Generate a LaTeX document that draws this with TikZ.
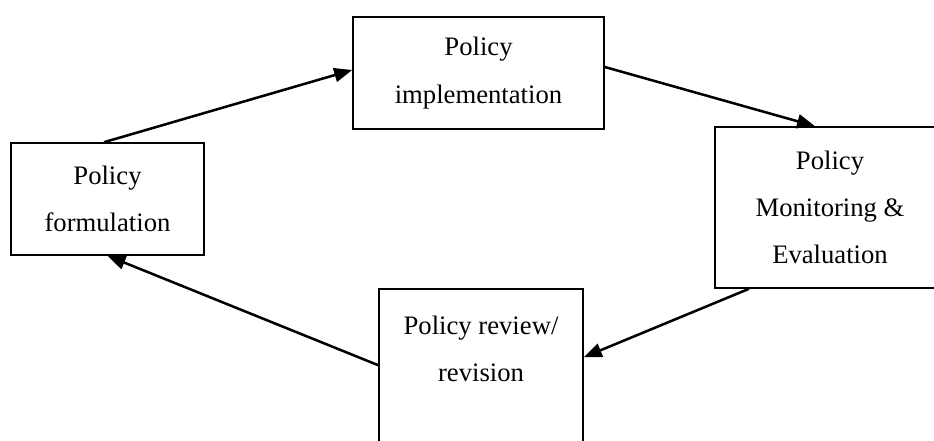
\documentclass[tikz,border=0pt]{standalone}
\usepackage{fontspec}
\setmainfont{Liberation Serif}
\usetikzlibrary{arrows.meta}
\begin{document}
\begin{tikzpicture}[x=0.75pt,y=-0.75pt,
  box/.style={draw=black,line width=1.2pt,rectangle,inner sep=0pt,align=center,
    font=\fontsize{20}{35.5}\selectfont},
  txt/.style={inner sep=0pt,align=center,font=\fontsize{20}{35.5}\selectfont},
  arr/.style={line width=1.9pt,-{Triangle[length=13.5pt,width=10.5pt]}}]
\useasboundingbox (0,0) rectangle (934,441);
\clip (0,0) rectangle (934,441);
\node[box,minimum width=144.75pt,minimum height=84pt] (form) at (107.5,199) {Policy\\formulation};
\node[box,minimum width=188.25pt,minimum height=84pt] (impl) at (478.5,73) {Policy\\implementation};
\node[box,minimum width=172.5pt,minimum height=120.75pt] (mon) at (830,207.5) {Policy\\Monitoring \&\\Evaluation};
\node[box,minimum width=153pt,minimum height=150pt] (rev) at (481,389) {};
\node[txt] (revtxt) at (481,349) {Policy review/\\revision};
\draw[arr] ([xshift=-2.6pt]form.north) -- ([yshift=2.25pt]impl.west);
\draw[arr] ([yshift=4.5pt]impl.east) -- ([xshift=-11.25pt]mon.north);
\draw[arr] ([xshift=-60.75pt]mon.south) -- ([yshift=-51.75pt]rev.north east);
\draw[arr] ([yshift=-57.75pt]rev.north west) -- (form.south);
\end{tikzpicture}
\end{document}
